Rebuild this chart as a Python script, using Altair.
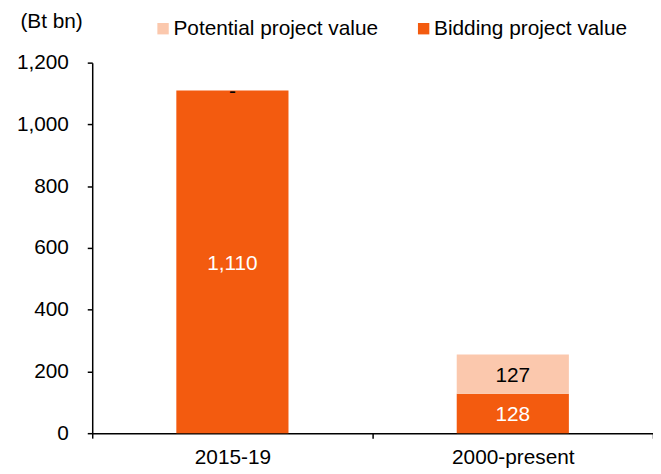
import altair as alt
import pandas as pd

categories = ["2015-19", "2000-present"]
bidding = [1110, 128]
potential = [0, 127]
series_names = ["Potential project value", "Bidding project value"]
series_colors = ["#FBC8AD", "#F35B0F"]
label_colors = ["black", "white"]

rows = []
for i, c in enumerate(categories):
    rows.append({"cat": c, "series": "Bidding project value", "value": bidding[i], "ord": 0})
    rows.append({"cat": c, "series": "Potential project value", "value": potential[i], "ord": 1})
df = pd.DataFrame(rows)

FONT = "Liberation Sans"
FS = 21

base = alt.Chart(df).transform_stack(
    stack="value", groupby=["cat"], as_=["y0", "y1"], sort=[alt.SortField("ord")]
).transform_calculate(
    mid="(datum.y0 + datum.y1) / 2",
    lab="datum.value == 0 ? '-' : format(datum.value, ',')",
)

x_scale = alt.Scale(paddingInner=0, paddingOuter=0)

x_enc = alt.X(
    "cat:N",
    sort=categories,
    title=None,
    scale=x_scale,
    axis=alt.Axis(
        labelAngle=0, labelFontSize=FS, labelFont=FONT, labelColor="black",
        domainColor="black", domainWidth=1.5, tickColor="black", tickWidth=1.5,
        tickSize=5, tickBand="extent", labelPadding=9,
    ),
)

bars = base.mark_bar(width=alt.RelativeBandSize(0.4)).encode(
    x=x_enc,
    y=alt.Y(
        "y0:Q",
        scale=alt.Scale(domain=[0, 1200], nice=False),
        axis=alt.Axis(
            values=[0, 200, 400, 600, 800, 1000, 1200], format=",.0f", grid=False,
            labelFontSize=FS, labelFont=FONT, labelColor="black",
            domainColor="black", domainWidth=1.5, tickColor="black", tickWidth=1.5,
            tickSize=5, labelPadding=19,
            title="(Bt bn)", titleAngle=0, titleFontSize=FS, titleFont=FONT,
            titleFontWeight="normal", titleColor="black", titleAlign="left",
            titleBaseline="middle", titleX=-73, titleY=-41,
        ),
    ),
    y2="y1:Q",
    color=alt.Color(
        "series:N",
        scale=alt.Scale(domain=series_names, range=series_colors),
        legend=alt.Legend(
            title=None, orient="none", direction="horizontal", legendX=61, legendY=-45,
            symbolType="square", symbolSize=132, symbolStrokeWidth=0,
            labelFontSize=FS, labelFont=FONT, labelColor="black", labelLimit=0,
            labelOffset=0, columnPadding=35,
        ),
    ),
)

labels = base.mark_text(font=FONT, fontSize=FS, baseline="middle", align="center", dy=2).encode(
    x=alt.X("cat:N", sort=categories, scale=x_scale),
    y="mid:Q",
    text="lab:N",
    color=alt.Color(
        "series:N",
        scale=alt.Scale(domain=series_names, range=label_colors),
        legend=None,
    ),
)

chart = alt.layer(bars, labels).resolve_scale(color="independent").properties(
    width=566, height=374,
    autosize=alt.AutoSizeParams(type="none"),
    padding={"left": 85, "top": 53, "right": 0, "bottom": 34},
).configure_view(stroke=None)

chart.save("out.html", embed_options={"renderer": "svg", "actions": False})
